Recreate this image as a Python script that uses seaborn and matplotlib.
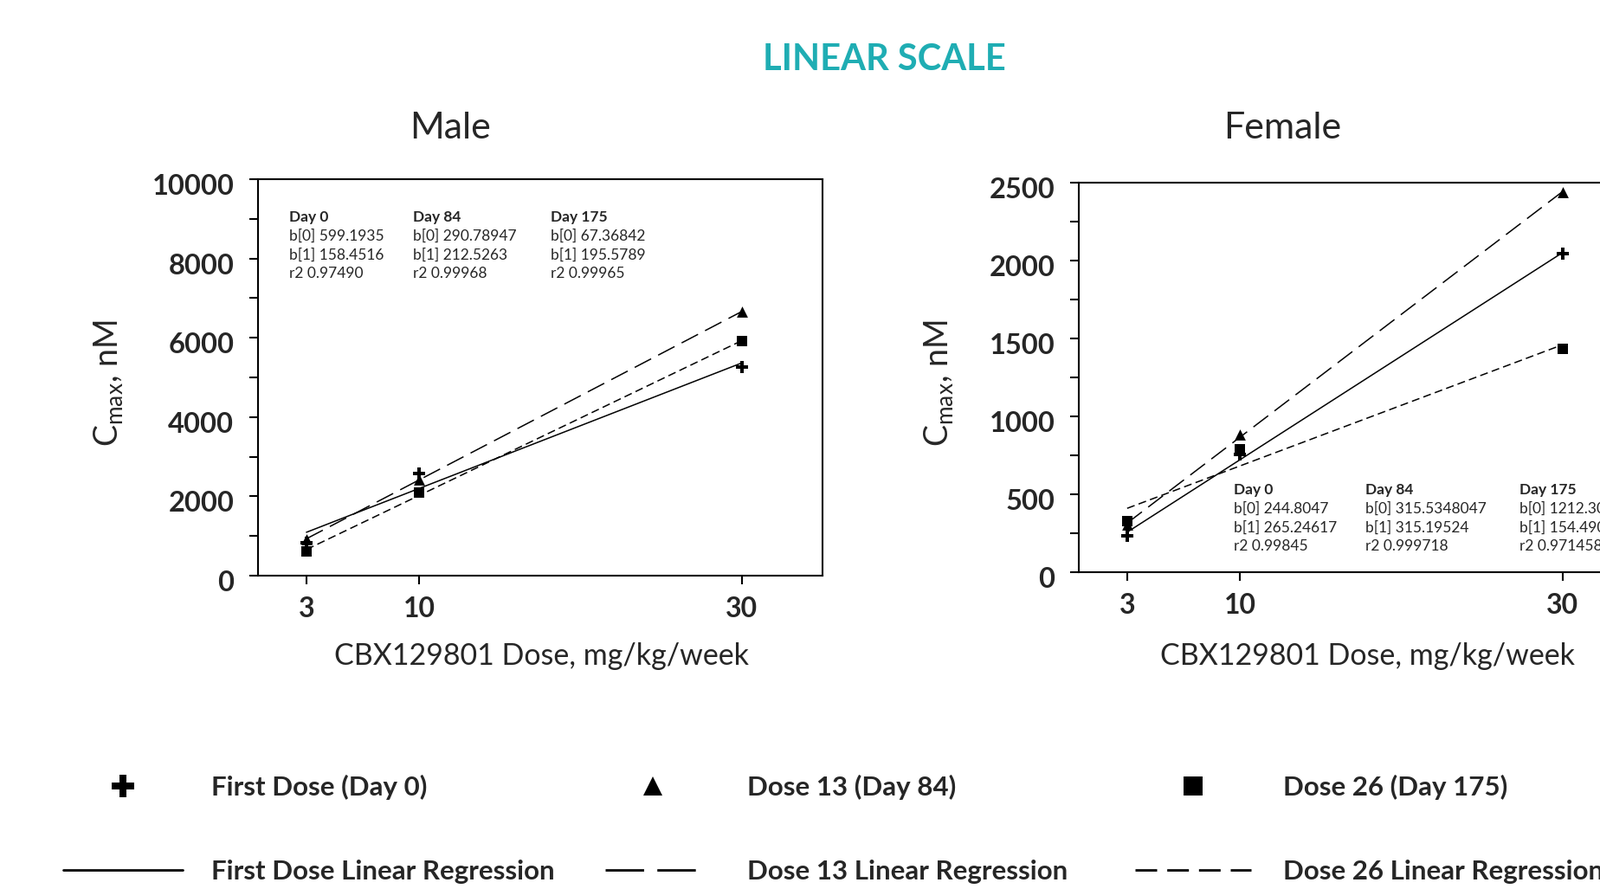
import numpy as np
import pandas as pd
import matplotlib
matplotlib.use("Agg")
import matplotlib.pyplot as plt
import matplotlib.transforms as mtransforms
import seaborn as sns
from matplotlib.lines import Line2D

# ---------------- data ----------------
doses = [3, 10, 30]

male_day0 = [820, 2570, 5270]
male_day84 = [920, 2430, 6660]
male_day175 = [610, 2090, 5912]

female_day0 = [233, 754, 2043]
female_day84 = [303, 883, 2439]
female_day175 = [330, 790, 1432]

series_labels = ["First Dose (Day 0)", "Dose 13 (Day 84)", "Dose 26 (Day 175)"]
regression_labels = ["First Dose Linear Regression", "Dose 13 Linear Regression",
                     "Dose 26 Linear Regression"]

day_titles = ["Day 0", "Day 84", "Day 175"]
male_b0 = ["599.1935", "290.78947", "67.36842"]
male_b1 = ["158.4516", "212.5263", "195.5789"]
male_r2 = ["0.97490", "0.99968", "0.99965"]
female_b0 = ["244.8047", "315.5348047", "1212.30"]
female_b1 = ["265.24617", "315.19524", "154.490"]
female_r2 = ["0.99845", "0.999718", "0.971458"]

male_yticks = [0, 2000, 4000, 6000, 8000, 10000]
female_yticks = [0, 500, 1000, 1500, 2000, 2500]
x_ticks = [3, 10, 30]

# ---------------- style ----------------
W, H = 1848, 1027
sns.set_style("ticks")
plt.rcParams["font.family"] = ["Lato", "DejaVu Sans"]
plt.rcParams["mathtext.fontset"] = "custom"
plt.rcParams["mathtext.rm"] = "Lato"
plt.rcParams["axes.linewidth"] = 1.5
plt.rcParams["axes.edgecolor"] = "black"

fig = plt.figure(figsize=(W / 100, H / 100), dpi=100)
fig.patch.set_facecolor("white")


def px_axes(left, top, right, bottom):
    return fig.add_axes([left / W, 1 - bottom / H, (right - left) / W, (bottom - top) / H])


ax_m = px_axes(298, 207, 950, 665)
ax_f = px_axes(1246, 211, 1898, 661)

markers = ["P", "^", "s"]
line_styles = ["-", (0, (14, 6)), (0, (6, 3.2))]
marker_sizes = [110, 85, 80]


def draw_panel(ax, series, yticks, ymax, minor_step):
    for vals, mk, ls, ms in zip(series, markers, line_styles, marker_sizes):
        sns.regplot(x=doses, y=vals, ax=ax, ci=None, truncate=True, marker=mk,
                    color="black",
                    scatter_kws=dict(s=ms, linewidths=0, alpha=1, zorder=3),
                    line_kws=dict(lw=1.1, linestyle=ls, color="black", zorder=2))
    ax.set_xlim(0, 35)
    ax.set_ylim(0, ymax)
    ax.set_xticks(x_ticks)
    ax.set_xticklabels([str(t) for t in x_ticks])
    ax.set_yticks(yticks)
    ax.set_yticklabels([str(t) for t in yticks])
    ax.set_yticks(np.arange(0, ymax + 1, minor_step), minor=True)
    ax.tick_params(axis="both", which="both", direction="out", length=7, width=1.5,
                   color="black")
    ax.tick_params(axis="x", labelsize=23, pad=10)
    ax.tick_params(axis="y", labelsize=23.5, pad=13)
    shift = mtransforms.ScaledTranslation(0, -6 / 100, fig.dpi_scale_trans)
    for lbl in ax.get_yticklabels():
        lbl.set_fontweight("bold")
        lbl.set_transform(lbl.get_transform() + shift)
    for lbl in ax.get_xticklabels():
        lbl.set_fontweight("bold")
    ax.set_xlabel("")
    ax.set_ylabel("")
    for sp in ax.spines.values():
        sp.set_visible(True)
        sp.set_linewidth(1.5)
        sp.set_color("black")
    ax.set_facecolor("white")
    ax.grid(False)


draw_panel(ax_m, [male_day0, male_day84, male_day175], male_yticks, 10000, 1000)
draw_panel(ax_f, [female_day0, female_day84, female_day175], female_yticks, 2500, 250)


def ftext(x, y, s, **kw):
    fig.text(x / W, 1 - y / H, s, **kw)


# titles
ftext(1021, 69, "LINEAR SCALE", ha="center", va="center", fontsize=30,
      fontweight="bold", color="#1fadb3")
ftext(520, 148, "Male", ha="center", va="center", fontsize=31, fontweight="normal")
ftext(1481, 148, "Female", ha="center", va="center", fontsize=31, fontweight="normal")

# axis labels
ylab = r"$\mathregular{C_{max}}$, nM"
ftext(125, 443, ylab, ha="center", va="center", rotation=90, fontsize=27)
ftext(1084, 443, ylab, ha="center", va="center", rotation=90, fontsize=27)
xlab = "CBX129801 Dose, mg/kg/week"
ftext(626, 758, xlab, ha="center", va="center", fontsize=24.5)
ftext(1580, 758, xlab, ha="center", va="center", fontsize=24.5)


# regression annotations
def annotate(xs, y0, b0, b1, r2):
    dy = 21.7
    for x, t, a, b, r in zip(xs, day_titles, b0, b1, r2):
        ftext(x, y0, t, ha="left", va="center", fontsize=12.5, fontweight="bold")
        ftext(x, y0 + dy, "b[0] " + a, ha="left", va="center", fontsize=12.5)
        ftext(x, y0 + 2 * dy, "b[1] " + b, ha="left", va="center", fontsize=12.5)
        ftext(x, y0 + 3 * dy, "r2 " + r, ha="left", va="center", fontsize=12.5)


annotate([334, 477, 636], 251, male_b0, male_b1, male_r2)
annotate([1425, 1577, 1755], 566, female_b0, female_b1, female_r2)

# legend (proxy handles)
legend_marker_sizes = [19, 16, 16]
legend_lines = [
    Line2D([], [], color="black", lw=2, linestyle="-"),
    Line2D([], [], color="black", lw=2, linestyle=(0, (16, 5.5))),
    Line2D([], [], color="black", lw=2, linestyle=(0, (9, 4.2))),
]
legend_x = [73, 699, 1311]
handle_len = [4.4, 3.5, 4.3]
text_pad = [1.07, 1.75, 1.18]
prop = dict(family="Lato", weight="bold", size=22.5)
for i in range(3):
    mh = Line2D([], [], marker=markers[i], linestyle="none", color="black",
                markersize=legend_marker_sizes[i], markeredgewidth=0)
    fig.legend(handles=[mh, legend_lines[i]],
               labels=[series_labels[i], regression_labels[i]],
               loc="center left", bbox_to_anchor=(legend_x[i] / W, 1 - 958 / H),
               frameon=False, borderpad=0, borderaxespad=0,
               handlelength=handle_len[i], handletextpad=text_pad[i],
               labelspacing=2.2, prop=prop)

fig.savefig("out.png", dpi=100, facecolor="white")
